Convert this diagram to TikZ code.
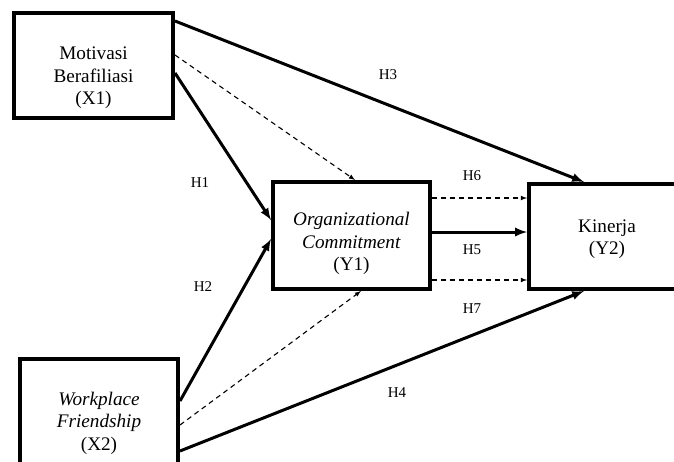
\documentclass[tikz,border=0pt]{standalone}
\usepackage{fontspec}
\setmainfont{Liberation Serif}
\usetikzlibrary{arrows}
\newcommand{\VarBox}[3][4.7pt]{\fontsize{19.2}{22.5}\selectfont \raisebox{-#1}[0pt][0pt]{\begin{tabular}{c} #2 \\ (#3) \\ \end{tabular}}}

\begin{document}
\begin{tikzpicture}[x=1pt,y=-1pt,
    var/.style={draw,line width=4pt,inner sep=0pt},
    hyp/.style={font=\fontsize{15}{17}\selectfont},
    sol/.style={->,>=latex,line width=3pt},
    dsh/.style={->,>=latex,dash pattern=on 5pt off 4pt,line width=1.1pt}]
        \useasboundingbox (0,0) rectangle (674,461);
        \clip (0,0) rectangle (674,461);
        \node[var,minimum width=159pt,minimum height=105pt] (Moti) at (93.5,65.5) {\VarBox[17.6pt]{Motivasi \\ Berafiliasi}{X1}};
        \node[var,minimum width=158pt,minimum height=126pt] (Work) at (99,422) {\VarBox[6.6pt]{\textit{Workplace} \\ \textit{Friendship}}{X2}};
        \node[var,minimum width=157pt,minimum height=107pt] (Orga) at (351.5,235.5) {\VarBox[13.6pt]{\textit{Organizational} \\ \textit{Commitment}}{Y1}};
        \node[var,minimum width=156pt,minimum height=105pt] (Kine) at (607,236.5) {\VarBox[7.6pt]{Kinerja}{Y2}};
        \node[hyp] (Hthree) at (388,75) {H3};
        \node[hyp] (Hone) at (200,183) {H1};
        \node[hyp] (Htwo) at (203,287) {H2};
        \node[hyp] (Hfour) at (397,393) {H4};
        \node[hyp] (Hsix) at (472,176) {H6};
        \node[hyp] (Hfive) at (472,250) {H5};
        \node[hyp] (Hseven) at (472,309) {H7};
        \draw[sol] ([yshift=-10pt]Moti.north east) -- ([xshift=57pt]Kine.north west);
        \draw[dsh] ([yshift=-44pt]Moti.north east) -- ([xshift=84pt]Orga.north west);
        \draw[sol] ([yshift=-62pt]Moti.north east) -- ([yshift=-40pt]Orga.north west);
        \draw[sol] ([yshift=-44pt]Work.north east) -- ([yshift=-59pt]Orga.north west);
        \draw[dsh] ([yshift=-68pt]Work.north east) -- ([xshift=90pt]Orga.south west);
        \draw[sol] ([yshift=-94pt]Work.north east) -- ([xshift=57pt]Kine.south west);
        \draw[dsh] ([yshift=-18pt]Orga.north east) -- ([yshift=-16pt]Kine.north west);
        \draw[sol] ([yshift=3.5pt]Orga.east) -- ([yshift=4.5pt]Kine.west);
        \draw[dsh] ([yshift=11pt]Orga.south east) -- ([yshift=11pt]Kine.south west);
      \end{tikzpicture}
\end{document}
